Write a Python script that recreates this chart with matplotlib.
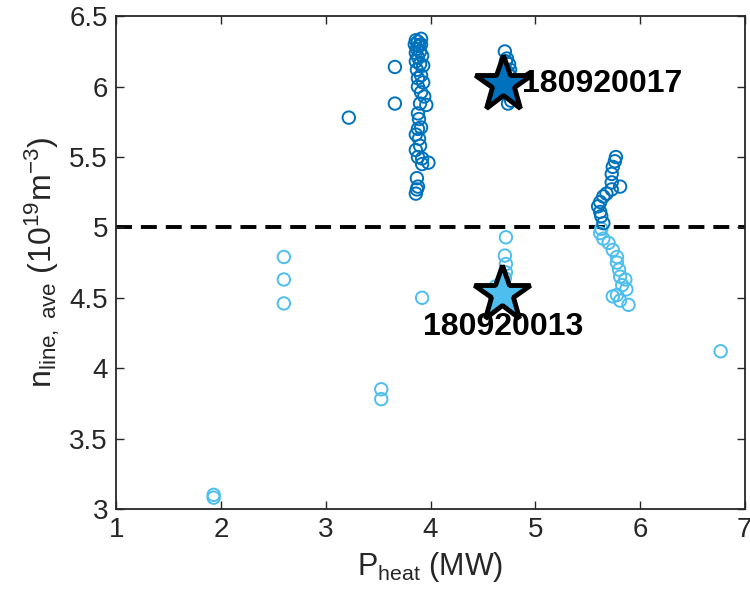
import matplotlib
matplotlib.use("Agg")
import matplotlib.pyplot as plt

plt.rcParams['font.family'] = ['Liberation Sans', 'DejaVu Sans']
plt.rcParams['mathtext.fontset'] = 'custom'
plt.rcParams['mathtext.rm'] = 'Liberation Sans'
plt.rcParams['mathtext.it'] = 'Liberation Sans:italic'

# dark (high density) points
dark_x = [3.86, 3.88, 3.91, 3.85, 3.89, 3.87, 3.91, 3.86, 3.90, 3.88, 3.92, 3.86, 3.90, 3.87,
          3.93, 3.88, 3.91, 3.93, 3.88, 3.91, 3.94, 3.90, 3.96, 3.88, 3.89, 3.88, 3.91, 3.86,
          3.89, 3.90, 3.86, 3.88, 3.92, 3.98, 3.92, 3.87, 3.88, 3.87, 3.86,
          3.22, 3.66, 3.66,
          4.71, 4.73, 4.75, 4.76, 4.75, 4.77, 4.76, 4.77, 4.74, 4.72, 4.74,
          5.77, 5.76, 5.74, 5.73, 5.73, 5.81, 5.73, 5.68, 5.65, 5.62, 5.60, 5.62, 5.63, 5.65]
dark_y = [6.33, 6.32, 6.34, 6.30, 6.29, 6.27, 6.30, 6.24, 6.25, 6.21, 6.22, 6.18, 6.16, 6.12,
          6.15, 6.06, 6.08, 6.03, 6.00, 5.96, 5.93, 5.88, 5.87, 5.81, 5.77, 5.70, 5.71, 5.66,
          5.63, 5.58, 5.55, 5.50, 5.49, 5.46, 5.45, 5.35, 5.29, 5.27, 5.24,
          5.78, 6.14, 5.88,
          6.25, 6.20, 6.16, 6.12, 6.08, 6.02, 5.95, 5.90, 5.88, 6.18, 6.10,
          5.50, 5.47, 5.43, 5.38, 5.32, 5.29, 5.27, 5.24, 5.22, 5.18, 5.15, 5.11, 5.08, 5.03]

# light (low density) points
light_x = [1.93, 1.93, 2.60, 2.60, 2.60, 3.53, 3.53, 3.92, 6.77,
           4.72, 4.71, 4.72, 4.72, 4.71, 4.62, 4.60, 4.62, 4.69, 4.66,
           5.63, 5.62, 5.65, 5.70, 5.74, 5.78, 5.78, 5.80, 5.81, 5.86, 5.83, 5.87, 5.78, 5.74,
           5.81, 5.89]
light_y = [3.10, 3.08, 4.79, 4.63, 4.46, 3.85, 3.78, 4.50, 4.12,
           4.93, 4.80, 4.74, 4.68, 4.64, 4.58, 4.55, 4.50, 4.60, 4.55,
           4.99, 4.96, 4.92, 4.89, 4.84, 4.79, 4.75, 4.70, 4.65, 4.63, 4.59, 4.56, 4.52, 4.51,
           4.48, 4.45]

star_x = [4.69, 4.68]
star_y = [6.02, 4.53]
star_labels = ['180920017', '180920013']

threshold = 5.0

dark_c = '#0072BD'
light_c = '#4DBEEE'

fig = plt.figure(figsize=(7.5, 6.03), dpi=100)
ax = fig.add_axes([0.155, 0.156, 0.838, 0.817])

ax.scatter(light_x, light_y, s=80, facecolors='none', edgecolors=light_c, linewidths=1.4, zorder=2)
ax.scatter(dark_x, dark_y, s=80, facecolors='none', edgecolors=dark_c, linewidths=1.4, zorder=2)
ax.axhline(threshold, color='black', lw=2.8, ls=(0, (4.1, 2.3)), zorder=1)

ax.plot(star_x[0], star_y[0], marker='*', ms=42, mfc=dark_c, mec='black', mew=3.5, zorder=4)
ax.plot(star_x[1], star_y[1], marker='*', ms=42, mfc=light_c, mec='black', mew=3.5, zorder=4)
ax.annotate(star_labels[0], (star_x[0], star_y[0]), xytext=(14, 0), textcoords='offset points',
            fontsize=23, fontweight='bold', va='center', ha='left', zorder=5)
ax.annotate(star_labels[1], (star_x[1], star_y[1]), xytext=(1, -24), textcoords='offset points',
            fontsize=23, fontweight='bold', va='center', ha='center', zorder=5)

ax.set_xlim(1, 7)
ax.set_ylim(3, 6.5)
ax.set_xticks([1, 2, 3, 4, 5, 6, 7])
ax.set_yticks([3, 3.5, 4, 4.5, 5, 5.5, 6, 6.5])
ax.set_yticklabels(['3', '3.5', '4', '4.5', '5', '5.5', '6', '6.5'])
ax.tick_params(direction='in', length=6, width=1.0, labelsize=20, top=True, right=True,
               colors='#262626', labelcolor='#262626', pad=6)
for sp in ax.spines.values():
    sp.set_linewidth(1.3)
    sp.set_color('#262626')

ax.set_xlabel(r'P$_{\rm heat}$ (MW)', fontsize=22, color='#262626', labelpad=5)
ax.set_ylabel(r'n$_{\rm line,\ ave}$ (10$^{19}$m$^{-3}$)', fontsize=23, color='#262626', labelpad=5)

fig.savefig('out.png', dpi=100)
